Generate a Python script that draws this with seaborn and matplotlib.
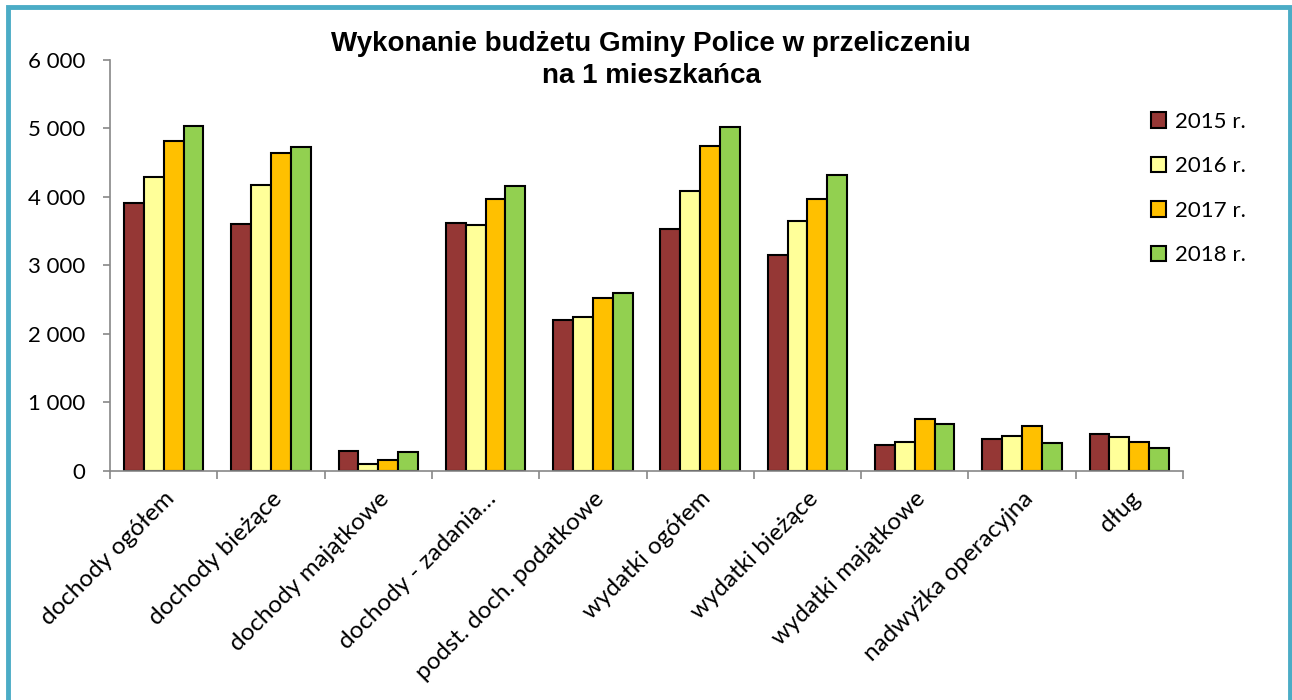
import matplotlib
matplotlib.use("Agg")
import matplotlib.pyplot as plt
from matplotlib.patches import Rectangle
from matplotlib.ticker import FixedLocator, FuncFormatter
import seaborn as sns
import pandas as pd

categories = [
    "dochody ogółem",
    "dochody bieżące",
    "dochody majątkowe",
    "dochody - zadania…",
    "podst. doch. podatkowe",
    "wydatki ogółem",
    "wydatki bieżące",
    "wydatki majątkowe",
    "nadwyżka operacyjna",
    "dług",
]
years = ["2015 r.", "2016 r.", "2017 r.", "2018 r."]
v2015 = [3911, 3610, 286, 3624, 2198, 3537, 3144, 383, 461, 539]
v2016 = [4284, 4168, 102, 3586, 2251, 4090, 3644, 427, 514, 495]
v2017 = [4808, 4639, 155, 3974, 2523, 4735, 3964, 757, 660, 427]
v2018 = [5026, 4731, 277, 4158, 2601, 5022, 4318, 684, 403, 335]
yticks = [0, 1000, 2000, 3000, 4000, 5000, 6000]
colors = ["#953735", "#FFFF99", "#FFC000", "#92D050"]

rows = []
for year, vals in zip(years, [v2015, v2016, v2017, v2018]):
    for cat, v in zip(categories, vals):
        rows.append({"kategoria": cat, "rok": year, "wartosc": v})
df = pd.DataFrame(rows)

sns.set_theme(style="white")
plt.rcParams["font.family"] = ["Lato", "DejaVu Sans"]
plt.rcParams["text.color"] = "black"
plt.rcParams["xtick.labelcolor"] = "black"
plt.rcParams["ytick.labelcolor"] = "black"

W, H = 1292, 700
fig = plt.figure(figsize=(W / 100, H / 100), dpi=100)
ax = fig.add_axes([110 / W, 1 - 471 / H, (1183 - 110) / W, (471 - 59.7) / H])

sns.barplot(
    data=df, x="kategoria", y="wartosc", hue="rok",
    order=categories, hue_order=years, palette=colors,
    width=0.74, edgecolor="black", linewidth=1.5, saturation=1,
    ax=ax, legend=True,
)

ax.set_xlim(-0.5, len(categories) - 0.5)
ax.set_ylim(0, 6000)
ax.yaxis.set_major_locator(FixedLocator(yticks))
ax.yaxis.set_major_formatter(FuncFormatter(lambda v, p: f"{int(v):,}".replace(",", " ")))
ax.set_xlabel("")
ax.set_ylabel("")

axis_grey = "#888888"
for side in ["top", "right"]:
    ax.spines[side].set_visible(False)
for side in ["left", "bottom"]:
    ax.spines[side].set_color(axis_grey)
    ax.spines[side].set_linewidth(1.2)

ax.tick_params(axis="y", which="major", direction="out", length=5, width=1.2,
               color=axis_grey, labelsize=16, pad=13, left=True, labelcolor="black")
ax.tick_params(axis="x", which="major", length=0, labelsize=17.5, pad=12, labelcolor="black")
ax.set_xticks([i - 0.5 for i in range(len(categories) + 1)], minor=True)
ax.tick_params(axis="x", which="minor", direction="out", length=6, width=1.2,
               color=axis_grey, bottom=True)
for lab in ax.get_xticklabels():
    lab.set_rotation(45)
    lab.set_ha("right")
    lab.set_va("top")
    lab.set_rotation_mode("anchor")

handles, labels = ax.get_legend_handles_labels()
for h in handles:
    h.set_edgecolor("black")
    h.set_linewidth(1.5)
ax.legend(handles, labels, loc="upper left",
          bbox_to_anchor=(1142 / W, 1 - 103 / H), bbox_transform=fig.transFigure,
          frameon=False, fontsize=16, handlelength=0.7, handleheight=0.7,
          handletextpad=0.4, labelspacing=1.1, borderaxespad=0, labelcolor="black")

title_font = ["Liberation Sans", "DejaVu Sans"]
fig.text(651 / W, 1 - 44 / H, "Wykonanie budżetu Gminy Police w przeliczeniu",
         ha="center", va="center", fontsize=20, fontweight="bold",
         color="black", family=title_font)
fig.text(651 / W, 1 - 76 / H, "na 1 mieszkańca",
         ha="center", va="center", fontsize=20, fontweight="bold",
         color="black", family=title_font)

fig.patches.append(Rectangle((8 / W, -0.01), (1290 - 8) / W, 1 - 7 / H + 0.01,
                             transform=fig.transFigure, fill=False,
                             edgecolor="#4BACC6", linewidth=3.5))

fig.savefig("out.png", dpi=100)
